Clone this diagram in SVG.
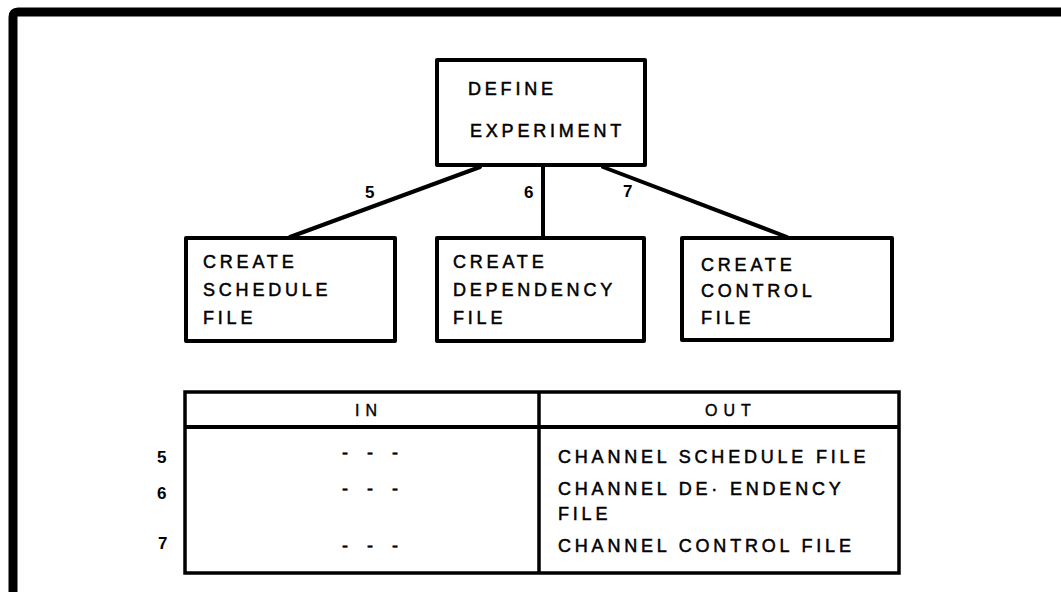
<svg xmlns="http://www.w3.org/2000/svg" width="1061" height="592" viewBox="0 0 1061 592">
  <style>
    .box { fill: #fff; stroke: #000; stroke-width: 4; stroke-linejoin: round; }
    .lbl { font-family: "Liberation Sans", Arial, sans-serif; font-size: 18px; letter-spacing: 3.8px; fill: #000; stroke: #000; stroke-width: 0.5px; }
    .num { font-family: "Liberation Sans", Arial, sans-serif; font-size: 17px; font-weight: bold; fill: #000; }
    .hdr { font-family: "Liberation Sans", Arial, sans-serif; font-size: 16px; letter-spacing: 6px; fill: #000; stroke: #000; stroke-width: 0.4px; }
    .dash { font-family: "Liberation Sans", Arial, sans-serif; font-size: 18px; letter-spacing: 7px; fill: #000; stroke: #000; stroke-width: 0.6px; }
    .edge { stroke: #000; stroke-width: 4; fill: none; stroke-linecap: round; }
    .rule { stroke: #000; fill: none; }
  </style>
  <rect width="1061" height="592" fill="#fff"/>

  <!-- page frame -->
  <path class="rule" d="M13,592 V17 Q13,12 18,12 H1061" stroke-width="9"/>

  <!-- connectors -->
  <g id="connectors">
    <line class="edge" x1="480" y1="167" x2="290" y2="237"/>
    <line class="edge" x1="543" y1="167" x2="543" y2="237" stroke-width="3"/>
    <line class="edge" x1="603" y1="167" x2="787" y2="237"/>
    <text class="num" x="365" y="198" font-size="16">5</text>
    <text class="num" x="524" y="198" font-size="16">6</text>
    <text class="num" x="623" y="197" font-size="16">7</text>
  </g>

  <g id="define-experiment">
    <rect class="box" x="437" y="60" width="208" height="105"/>
    <text class="lbl" x="468" y="95" font-size="17" letter-spacing="4.2">DEFINE</text>
    <text class="lbl" x="470" y="137" font-size="17" letter-spacing="4.2">EXPERIMENT</text>
  </g>

  <g id="create-schedule">
    <rect class="box" x="186" y="238" width="209" height="103"/>
    <text class="lbl" x="203" y="268">CREATE</text>
    <text class="lbl" x="203" y="296">SCHEDULE</text>
    <text class="lbl" x="203" y="324">FILE</text>
  </g>

  <g id="create-dependency">
    <rect class="box" x="437" y="238" width="207" height="103"/>
    <text class="lbl" x="453" y="268">CREATE</text>
    <text class="lbl" x="453" y="296">DEPENDENCY</text>
    <text class="lbl" x="453" y="324">FILE</text>
  </g>

  <g id="create-control">
    <rect class="box" x="682" y="238" width="210" height="102"/>
    <text class="lbl" x="701" y="271">CREATE</text>
    <text class="lbl" x="701" y="297">CONTROL</text>
    <text class="lbl" x="701" y="324">FILE</text>
  </g>

  <!-- input / output table -->
  <g id="io-table">
    <rect class="rule" x="185" y="392" width="714" height="181" stroke-width="3.5"/>
    <line class="rule" x1="185" y1="427" x2="899" y2="427" stroke-width="4"/>
    <line class="rule" x1="539" y1="392" x2="539" y2="573" stroke-width="3.5"/>
    <text class="hdr" x="355" y="416">IN</text>
    <text class="hdr" x="705" y="416">OUT</text>

    <text class="num" x="157" y="463">5</text>
    <text class="num" x="157" y="499">6</text>
    <text class="num" x="158" y="549">7</text>

    <text class="dash" x="342" y="459">- - -</text>
    <text class="dash" x="342" y="495">- - -</text>
    <text class="dash" x="342" y="552">- - -</text>

    <text class="lbl" x="558" y="463">CHANNEL SCHEDULE FILE</text>
    <text class="lbl" x="558" y="495">CHANNEL DE· ENDENCY</text>
    <text class="lbl" x="558" y="520">FILE</text>
    <text class="lbl" x="558" y="552">CHANNEL CONTROL FILE</text>
  </g>
</svg>
